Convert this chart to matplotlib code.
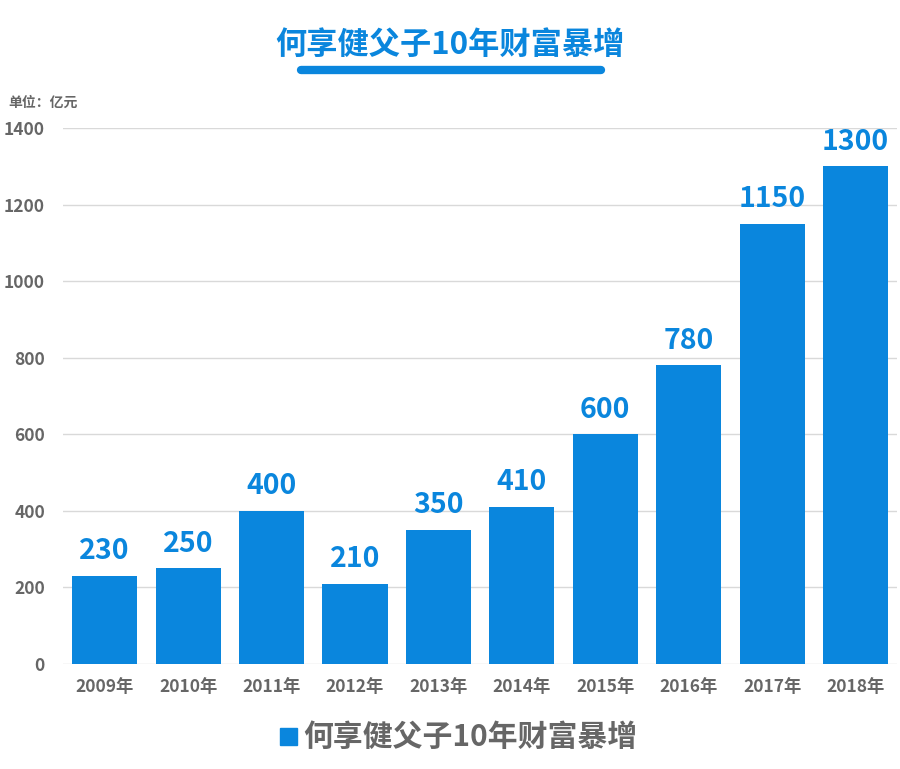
import matplotlib
matplotlib.use("Agg")
import matplotlib.pyplot as plt
from matplotlib.lines import Line2D

plt.rcParams['font.family'] = ['Noto Sans CJK SC', 'DejaVu Sans']

# data
years = ["2009年", "2010年", "2011年", "2012年", "2013年",
         "2014年", "2015年", "2016年", "2017年", "2018年"]
wealth = [230, 250, 400, 210, 350, 410, 600, 780, 1150, 1300]
y_ticks = [0, 200, 400, 600, 800, 1000, 1200, 1400]
title = "何享健父子10年财富暴增"
unit_label = "单位：亿元"

blue = "#0a86dd"
gray = "#666666"

fig = plt.figure(figsize=(9, 7.69), dpi=100)
ax = fig.add_axes([0.07, 0.1365, 0.927, 0.697])

x = range(len(years))
bars = ax.bar(x, wealth, width=0.78, color=blue, zorder=3)

for xi, v in zip(x, wealth):
    ax.text(xi, v + 28, str(v), ha="center", va="bottom", fontsize=20.5,
            fontweight="bold", color=blue)

ax.set_xlim(-0.5, len(years) - 0.5)
ax.set_ylim(0, 1400)
ax.set_yticks(y_ticks)
ax.set_xticks(list(x))
ax.set_xticklabels(years)
ax.tick_params(axis="both", length=0, colors=gray, labelsize=12.5)
ax.tick_params(axis="x", pad=10)
ax.tick_params(axis="y", pad=13)
for lbl in ax.get_xticklabels() + ax.get_yticklabels():
    lbl.set_fontweight("bold")
ax.grid(axis="y", color="#d9d9d9", linewidth=1, zorder=0)
for s in ax.spines.values():
    s.set_visible(False)

# title + underline
fig.text(0.5, 0.942, title, ha="center", va="center", fontsize=22.5,
         fontweight="bold", color=blue)
fig.add_artist(Line2D([0.334, 0.668], [0.909, 0.909], transform=fig.transFigure,
                      color=blue, linewidth=6, solid_capstyle="round"))

fig.text(0.009, 0.866, unit_label, ha="left", va="center", fontsize=10,
         fontweight="bold", color=gray)

# legend
fig.patches.append(plt.Rectangle((0.311, 0.031), 0.019, 0.022, transform=fig.transFigure,
                                 color=blue, figure=fig))
fig.text(0.337, 0.042, title, ha="left", va="center", fontsize=21.5,
         fontweight="bold", color=gray)

fig.savefig("out.png", dpi=100, facecolor="white")
